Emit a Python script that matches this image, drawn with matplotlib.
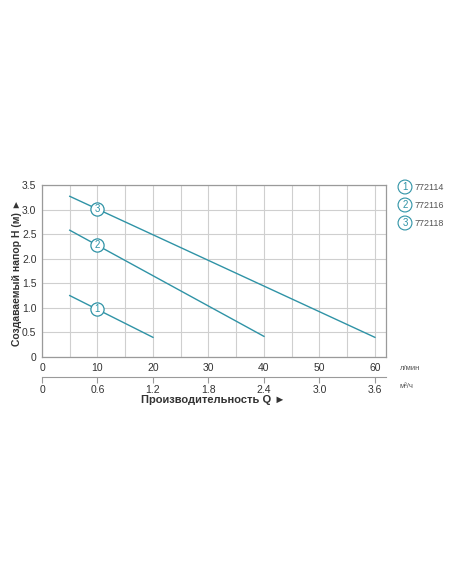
import matplotlib
matplotlib.use("Agg")
import matplotlib.pyplot as plt

plt.rcParams["font.family"] = ["Liberation Sans", "DejaVu Sans"]

# flow (l/min) and head (m) for three pumps
q1 = [5, 20]
h1 = [1.25, 0.40]
q2 = [5, 40]
h2 = [2.58, 0.42]
q3 = [5, 60]
h3 = [3.27, 0.40]
models = ["772114", "772116", "772118"]
label_q = 10

teal = "#2f93a6"
grey = "#9a9a9a"

fig = plt.figure(figsize=(4.52, 5.84), dpi=100)
ax = fig.add_axes([42 / 452, 1 - 357 / 584, 344 / 452, 172 / 584])

ax.set_xlim(0, 62)
ax.set_ylim(0, 3.5)
ax.set_xticks(range(5, 62, 5), minor=True)
ax.set_xticks([0, 10, 20, 30, 40, 50, 60])
ax.set_yticks([0, 0.5, 1.0, 1.5, 2.0, 2.5, 3.0, 3.5])
ax.set_yticklabels(["0", "0.5", "1.0", "1.5", "2.0", "2.5", "3.0", "3.5"])
ax.grid(True, which="both", color="#cfcfcf", lw=0.8)
ax.tick_params(which="both", length=0, labelsize=7.5, colors="#333333", pad=4)
for s in ax.spines.values():
    s.set_color(grey)
    s.set_linewidth(0.9)

for i, (q, h) in enumerate([(q1, h1), (q2, h2), (q3, h3)]):
    ax.plot(q, h, color=teal, lw=1.0, zorder=3)
    hy = h[0] + (h[1] - h[0]) * (label_q - q[0]) / (q[1] - q[0])
    ax.plot(label_q, hy, "o", ms=9.5, mfc="white", mec=teal, mew=0.9, zorder=4)
    ax.text(label_q, hy, str(i + 1), color=teal, fontsize=7,
            ha="center", va="center", zorder=5)

# secondary flow axis in m3/h
sec = ax.secondary_xaxis(-20 / 172, functions=(lambda x: x * 0.06, lambda x: x / 0.06))
sec.set_xticks([0, 0.6, 1.2, 1.8, 2.4, 3.0, 3.6])
sec.set_xticklabels(["0", "0.6", "1.2", "1.8", "2.4", "3.0", "3.6"])
sec.tick_params(length=4, width=0.8, color=grey, labelsize=7.5, labelcolor="#333333", pad=2)
sec.spines["bottom"].set_color(grey)

fig.text(17 / 452, 1 - 272 / 584, "Создаваемый напор H (м) ►",
         rotation=90, ha="center", va="center", fontsize=7.5, fontweight="bold",
         color="#333333")
fig.text(213 / 452, 1 - 400 / 584, "Производительность Q ►", ha="center",
         va="center", fontsize=8, fontweight="bold", color="#333333")
fig.text(400 / 452, 1 - 369 / 584, "л/мин", fontsize=5.5, color="#555555", va="center")
fig.text(400 / 452, 1 - 386 / 584, "м³/ч", fontsize=5.5, color="#555555", va="center")

for i, m in enumerate(models):
    y = 1 - (187 + 18 * i) / 584
    fig.text(405 / 452, y, str(i + 1), color=teal, fontsize=7, ha="center", va="center",
             bbox=dict(boxstyle="circle,pad=0.2", fc="white", ec=teal, lw=0.8))
    fig.text(415 / 452, y, m, color="#555555", fontsize=6.5, va="center")

fig.savefig("out.png", dpi=100)
